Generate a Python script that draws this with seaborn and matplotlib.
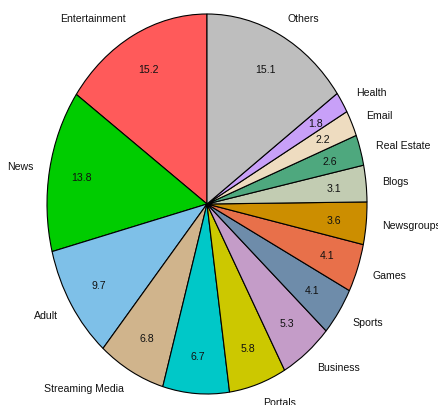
import matplotlib
matplotlib.use("Agg")
import matplotlib.pyplot as plt
import seaborn as sns

# Share of traffic by site category (counter-clockwise from the top)
categories = ["Entertainment", "News", "Adult", "Streaming Media", "",
              "Portals", "Business", "Sports", "Games", "Newsgroups",
              "Blogs", "Real Estate", "Email", "Health", "Others"]
shares = [15.2, 13.8, 9.7, 6.8, 6.7, 5.8, 5.3, 4.1, 4.1, 3.6,
          3.1, 2.6, 2.2, 1.8, 15.1]
slice_colors = ["#FF5A5A", "#00CC00", "#7EC0E8", "#D0B48C", "#00C8C8",
                "#CCC800", "#C49CC8", "#6E8CAA", "#E8704A", "#CC8E00",
                "#C2CCB2", "#4EA87E", "#EEDCC0", "#C8A0F8", "#BEBEBE"]

sns.set_style("white")
plt.rcParams["font.family"] = ["Liberation Sans", "DejaVu Sans"]

fig = plt.figure(figsize=(4.39, 4.06), dpi=100)
ax = fig.add_axes([47 / 439, 11 / 406, 320 / 439, 380 / 406])

value_iter = iter(shares)
wedges, texts, autotexts = ax.pie(
    shares,
    labels=categories,
    colors=slice_colors,
    startangle=90,
    counterclock=True,
    labeldistance=1.1,
    pctdistance=0.8,
    autopct=lambda p: f"{next(value_iter):.1f}",
    wedgeprops=dict(edgecolor="black", linewidth=0.8),
    textprops=dict(fontsize=7.6, color="#111111"),
)

ax.set_xlim(-1, 1)
ax.set_ylim(-1, 1)
ax.set_aspect("auto")
ax.axis("off")

fig.savefig("out.png", dpi=100)
